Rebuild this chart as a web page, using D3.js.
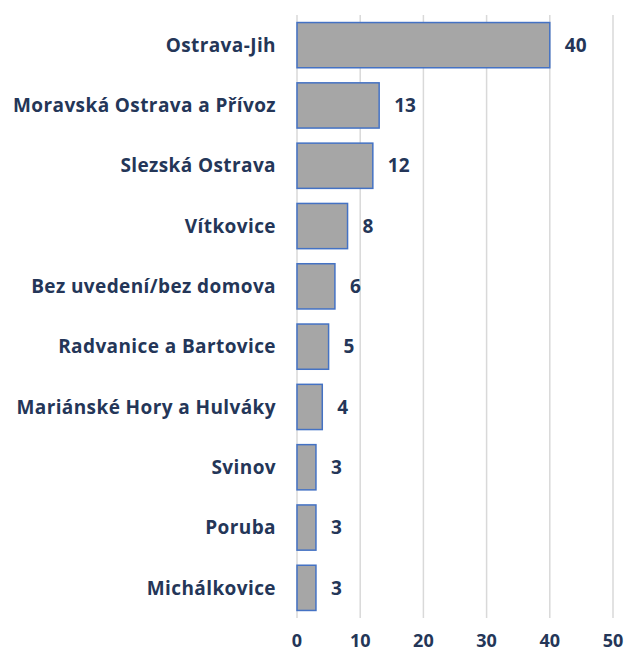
<!DOCTYPE html>
<html>
<head>
<meta charset="utf-8">
<script src="https://cdn.jsdelivr.net/npm/d3@7"></script>
<style>
  body { margin: 0; background: #fff; }
  text { font-family: "Open Sans", sans-serif; font-weight: bold; fill: #243658; }
</style>
</head>
<body>
<div id="chart"></div>
<script>
// data
const districts = ["Ostrava-Jih", "Moravská Ostrava a Přívoz", "Slezská Ostrava", "Vítkovice",
  "Bez uvedení/bez domova", "Radvanice a Bartovice", "Mariánské Hory a Hulváky",
  "Svinov", "Poruba", "Michálkovice"];
const counts = [40, 13, 12, 8, 6, 5, 4, 3, 3, 3];
const ticks = [0, 10, 20, 30, 40, 50];

const width = 626, height = 655;
const margin = {top: 15, right: 13, bottom: 37, left: 297};

const svg = d3.select("#chart").append("svg")
  .attr("width", width)
  .attr("height", height);

const x = d3.scaleLinear().domain([0, 50]).range([margin.left, width - margin.right]);
const y = d3.scaleBand().domain(districts).range([margin.top, height - margin.bottom])
  .paddingInner(0.25).paddingOuter(0.125);

// gridlines
svg.append("g").selectAll("line")
  .data(ticks)
  .join("line")
  .attr("x1", d => x(d)).attr("x2", d => x(d))
  .attr("y1", margin.top).attr("y2", height - margin.bottom)
  .attr("stroke", "#d9d9d9")
  .attr("stroke-width", 1.5);

// tick labels
svg.append("g").selectAll("text")
  .data(ticks)
  .join("text")
  .attr("x", d => x(d))
  .attr("y", height - margin.bottom + 23)
  .attr("dy", "0.35em")
  .attr("text-anchor", "middle")
  .style("font-size", "18px")
  .text(d => d);

// bars
const rows = districts.map((d, i) => ({name: d, value: counts[i]}));

svg.append("g").selectAll("rect")
  .data(rows)
  .join("rect")
  .attr("x", x(0))
  .attr("y", d => y(d.name))
  .attr("width", d => x(d.value) - x(0))
  .attr("height", y.bandwidth())
  .attr("fill", "#a6a6a6")
  .attr("stroke", "#4472c4")
  .attr("stroke-width", 1.5);

// category labels
svg.append("g").selectAll("text")
  .data(rows)
  .join("text")
  .attr("x", margin.left - 21)
  .attr("y", d => y(d.name) + y.bandwidth() / 2)
  .attr("dy", "0.35em")
  .attr("text-anchor", "end")
  .style("font-size", "19px")
  .style("letter-spacing", "0.4px")
  .text(d => d.name);

// value labels
svg.append("g").selectAll("text")
  .data(rows)
  .join("text")
  .attr("x", d => x(d.value) + 15)
  .attr("y", d => y(d.name) + y.bandwidth() / 2)
  .attr("dy", "0.35em")
  .style("font-size", "19px")
  .text(d => d.value);
</script>
</body>
</html>
